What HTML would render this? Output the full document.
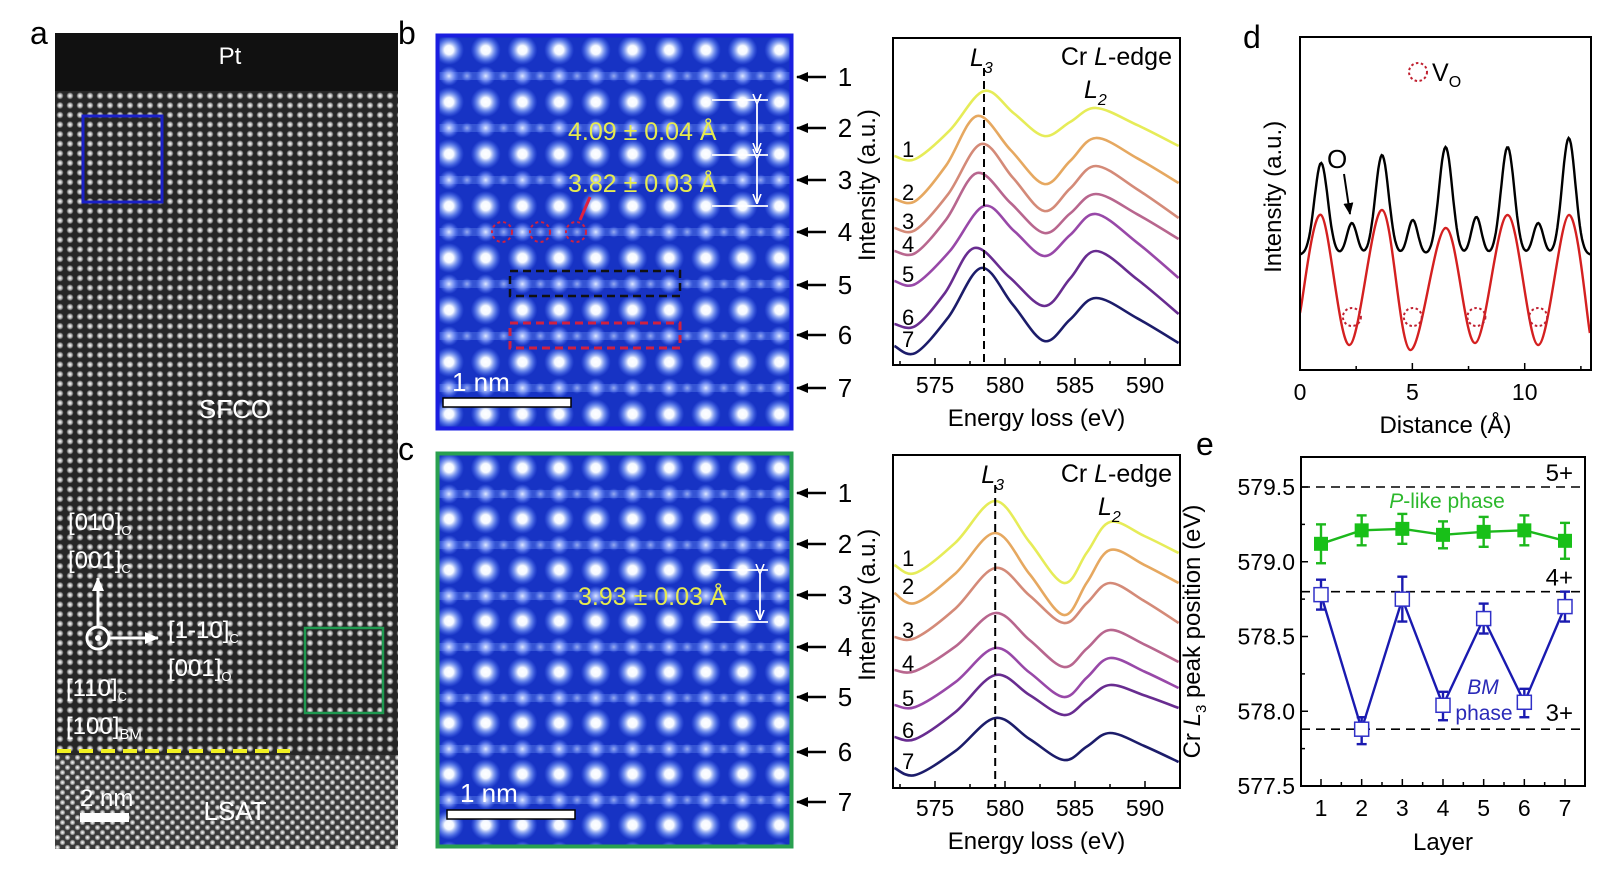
<!DOCTYPE html>
<html><head><meta charset="utf-8">
<style>
html,body{margin:0;padding:0;background:#fff;}
svg{display:block;font-family:"Liberation Sans",Arial,sans-serif;}
</style></head>
<body>
<svg id="fig" width="1618" height="890" viewBox="0 0 1618 890" xmlns="http://www.w3.org/2000/svg">
<defs>
  <radialGradient id="gdot"><stop offset="0" stop-color="#fff" stop-opacity="1"/><stop offset="0.5" stop-color="#ddd" stop-opacity="0.8"/><stop offset="1" stop-color="#fff" stop-opacity="0"/></radialGradient>
  <pattern id="latA" width="10" height="9.6" patternUnits="userSpaceOnUse" x="55" y="91">
    <rect width="10" height="9.6" fill="#262626"/>
    <circle cx="5" cy="4.8" r="3.6" fill="url(#gdot)"/>
  </pattern>
  <pattern id="latL" width="10" height="10" patternUnits="userSpaceOnUse" x="55" y="755">
    <rect width="10" height="10" fill="#3a3a3a"/>
    <circle cx="2.5" cy="2.5" r="3" fill="url(#gdot)"/>
    <circle cx="7.5" cy="7.5" r="3" fill="url(#gdot)"/>
  </pattern>
  <radialGradient id="bdot"><stop offset="0" stop-color="#fff"/><stop offset="0.3" stop-color="#f4f8ff"/><stop offset="0.65" stop-color="#8fb0ff" stop-opacity="0.6"/><stop offset="1" stop-color="#5a80ff" stop-opacity="0"/></radialGradient>
  <radialGradient id="sdot"><stop offset="0" stop-color="#dfe8ff"/><stop offset="0.5" stop-color="#90aaff" stop-opacity="0.7"/><stop offset="1" stop-color="#5a80ff" stop-opacity="0"/></radialGradient>
  <marker id="ah" markerUnits="userSpaceOnUse" markerWidth="12" markerHeight="12" refX="11" refY="6" orient="auto"><path d="M0,1 L12,6 L0,11 z" fill="#000"/></marker>
  <marker id="ahw" markerUnits="userSpaceOnUse" markerWidth="10" markerHeight="10" refX="9" refY="5" orient="auto"><path d="M0,1 L10,5 L0,9" fill="none" stroke="#fff" stroke-width="1.6"/></marker>
  <marker id="ahw2" markerUnits="userSpaceOnUse" markerWidth="14" markerHeight="14" refX="13" refY="7" orient="auto"><path d="M0,1 L14,7 L0,13 z" fill="#fff"/></marker>
</defs>

<!-- Panel a -->
<g>
  <text x="30" y="44" font-size="32">a</text>
  <rect x="55" y="33" width="343" height="816" fill="url(#latA)"/>
  <rect x="55" y="33" width="343" height="58" fill="#111"/>
  <rect x="55" y="755" width="343" height="94" fill="url(#latL)"/>
  <text x="230" y="64" font-size="24" fill="#fff" text-anchor="middle">Pt</text>
  <text x="235" y="418" font-size="26" fill="#fff" text-anchor="middle">SFCO</text>
  <text x="235" y="820" font-size="26" fill="#fff" text-anchor="middle">LSAT</text>
  <rect x="83" y="116" width="79" height="86" fill="none" stroke="#1a20c8" stroke-width="3"/>
  <rect x="305" y="628" width="78" height="85" fill="none" stroke="#1e9a50" stroke-width="2.5"/>
  <line x1="57" y1="751" x2="290" y2="751" stroke="#f0f020" stroke-width="4" stroke-dasharray="14,8"/>
  <g fill="#fff" font-size="24">
    <text x="68" y="530">[010]<tspan font-size="13" dy="5">O</tspan></text>
    <text x="68" y="568">[001]<tspan font-size="13" dy="5">C</tspan></text>
    <text x="168" y="638">[1-10]<tspan font-size="13" dy="5">C</tspan></text>
    <text x="168" y="676">[001]<tspan font-size="13" dy="5">O</tspan></text>
    <text x="66" y="696">[110]<tspan font-size="13" dy="5">C</tspan></text>
    <text x="66" y="734">[100]<tspan font-size="15" dy="5">BM</tspan></text>
  </g>
  <line x1="98" y1="626" x2="98" y2="578" stroke="#fff" stroke-width="3" marker-end="url(#ahw2)"/>
  <line x1="110" y1="638" x2="158" y2="638" stroke="#fff" stroke-width="3" marker-end="url(#ahw2)"/>
  <circle cx="98" cy="638" r="11" fill="none" stroke="#fff" stroke-width="3"/>
  <circle cx="98" cy="638" r="3" fill="#fff"/>
  <text x="80" y="806" font-size="24" fill="#fff">2 nm</text>
  <rect x="80" y="813" width="49" height="9" fill="#fff"/>
</g>

<g id="imgB"></g>
<g id="imgC"></g>

<g>
  <text x="398" y="44" font-size="32">b</text>
  <g stroke="#fff" stroke-width="1.8" fill="none">
    <line x1="712" y1="100" x2="768" y2="100"/><line x1="712" y1="155" x2="768" y2="155"/><line x1="712" y1="206" x2="768" y2="206"/>
    <line x1="757" y1="103" x2="757" y2="152" marker-end="url(#ahw)" marker-start="url(#ahw)"/>
    <line x1="757" y1="158" x2="757" y2="203" marker-end="url(#ahw)" marker-start="url(#ahw)"/>
  </g>
  <text x="568" y="140" font-size="25" fill="#e6ea50">4.09 ± 0.04 Å</text>
  <text x="568" y="192" font-size="25" fill="#e6ea50">3.82 ± 0.03 Å</text>
  <g fill="none" stroke="#d02040" stroke-width="2" stroke-dasharray="3,3">
    <circle cx="502" cy="232" r="10"/><circle cx="540" cy="232" r="10"/><circle cx="576" cy="232" r="10"/>
  </g>
  <line x1="590" y1="197" x2="580" y2="220" stroke="#e02040" stroke-width="3"/>
  <rect x="510" y="271" width="170" height="25" fill="none" stroke="#111" stroke-width="2.5" stroke-dasharray="8,5"/>
  <rect x="510" y="323" width="170" height="25" fill="none" stroke="#d02040" stroke-width="3" stroke-dasharray="8,5"/>
  <rect x="443" y="398" width="128" height="9" fill="#fff" stroke="#000" stroke-width="1.5"/>
  <text x="452" y="391" font-size="26" fill="#fff">1 nm</text>
</g>
<g>
  <text x="398" y="460" font-size="32">c</text>
  <g stroke="#fff" stroke-width="1.8" fill="none">
    <line x1="705" y1="570" x2="768" y2="570"/><line x1="705" y1="622" x2="768" y2="622"/>
    <line x1="760" y1="573" x2="760" y2="619" marker-end="url(#ahw)" marker-start="url(#ahw)"/>
  </g>
  <text x="578" y="605" font-size="25" fill="#e6ea50">3.93 ± 0.03 Å</text>
  <rect x="447" y="810" width="128" height="9" fill="#fff" stroke="#000" stroke-width="1.5"/>
  <text x="460" y="802" font-size="26" fill="#fff">1 nm</text>
</g>
<g id="rowArrows"></g>

<g id="specB"></g>
<g id="specC"></g>
<g id="panelD"></g>
<g id="panelE"></g>
</svg>

<script>
// ---------- Spectra data (intensity a.u.) ----------
const layerNames = ['1','2','3','4','5','6','7'];
const layerColors = ['#e6ec58','#e6a860','#d48a78','#b8668e','#9848a8','#682c90','#1c1c6a'];
const bL3 = [578.5,578.0,578.3,578.0,578.5,577.8,578.3];
const bDip = 582.8, bL2 = 586.5;
const bStart = [20.9,16.6,13.7,11.4,8.4,4.1,1.9];
const bMin   = [20.6,16.4,13.5,11.2,8.1,3.9,1.2];
const bPeak  = [27.4,24.9,22.1,19.2,15.9,11.7,9.7];
const bDipV  = [22.9,18.1,15.4,13.2,10.9,5.9,2.4];
const bL2V   = [25.7,22.7,19.9,17.1,15.1,11.4,6.7];
const bEnd   = [21.9,18.2,14.7,12.6,8.7,5.1,2.2];
const cL3 = [579.3,579.3,579.3,579.3,579.3,579.3,579.3];
const cDip = 584.2, cL2 = 587.5;
const cStart = [22.3,19.5,15.1,11.8,8.3,5.1,2.0];
const cMin   = [21.5,18.5,15.0,11.7,8.1,4.9,1.3];
const cPeak  = [28.7,25.5,22.0,17.5,14.0,11.3,7.0];
const cDipV  = [20.5,17.3,16.5,12.1,9.1,7.3,2.8];
const cL2V   = [26.6,23.8,20.5,15.8,13.0,10.3,5.5];
const cEnd   = [23.5,20.5,16.5,12.6,10.0,8.0,2.6];
const energyTicks = [575,580,585,590];

// ---------- Panel d data ----------
const dMajorPos = [0.94,3.65,6.48,9.24,11.96];
const dMajorVal = [20.7,21.5,22.3,22.3,23.2];
const dMinorPos = [2.31,5.02,7.85,10.6];
const dMinorVal = [14.7,15.0,15.3,14.7];
const dBase = 11.5;
const dRedPos = [0,0.94,2.2,3.65,4.9,6.48,7.8,9.24,10.6,11.96,12.9];
const dRedVal = [5.7,15.5,2.5,16.0,2.0,14.2,2.7,15.5,2.5,15.5,3.7];
const dTicks = [0,5,10];

// ---------- Panel e data ----------
const eLayers = [1,2,3,4,5,6,7];
const ePlike = [579.12,579.21,579.22,579.18,579.20,579.21,579.14];
const ePlikeErr = [0.13,0.10,0.10,0.09,0.10,0.10,0.12];
const eBM = [578.78,577.88,578.75,578.04,578.62,578.06,578.70];
const eBMErrUp = [0.10,0.08,0.15,0.09,0.10,0.09,0.10];
const eBMErrDn = [0.10,0.10,0.15,0.10,0.10,0.10,0.10];
const eYTicks = [577.5,578.0,578.5,579.0,579.5];
const eRefLines = [579.5,578.8,577.88];
const eRefLabels = ['5+','4+','3+'];

const NS='http://www.w3.org/2000/svg';
function el(tag, attrs, parent, text){
  const e=document.createElementNS(NS,tag);
  for(const k in attrs) e.setAttribute(k,attrs[k]);
  if(text!==undefined) e.textContent=text;
  parent.appendChild(e); return e;
}
function crPath(pts){
  let d='M'+pts[0][0].toFixed(1)+','+pts[0][1].toFixed(1);
  for(let i=0;i<pts.length-1;i++){
    const p0=pts[Math.max(0,i-1)],p1=pts[i],p2=pts[i+1],p3=pts[Math.min(pts.length-1,i+2)];
    const c1=[p1[0]+(p2[0]-p0[0])/6,p1[1]+(p2[1]-p0[1])/6];
    const c2=[p2[0]-(p3[0]-p1[0])/6,p2[1]-(p3[1]-p1[1])/6];
    d+=' C'+c1[0].toFixed(1)+','+c1[1].toFixed(1)+' '+c2[0].toFixed(1)+','+c2[1].toFixed(1)+' '+p2[0].toFixed(1)+','+p2[1].toFixed(1);
  }
  return d;
}

function drawStem(g, x0, y0, w, h, border, bigRows){
  const clipId='clip'+g.id;
  const cp=el('clipPath',{id:clipId},g); el('rect',{x:x0,y:y0,width:w,height:h},cp);
  const inner=el('g',{'clip-path':'url(#'+clipId+')'},g);
  el('rect',{x:x0,y:y0,width:w,height:h,fill:'#1733c4'},inner);
  for(let r=0;r<bigRows.length;r++){
    const yb=bigRows[r];
    el('rect',{x:x0,y:yb+22,width:w,height:8,fill:'#4a6ae0',opacity:0.6},inner);
    for(let c=0;c<10;c++){
      const xc=x0+13+c*36.7;
      el('circle',{cx:xc,cy:yb,r:15,fill:'url(#bdot)'},inner);
      el('circle',{cx:xc,cy:yb+26,r:10,fill:'url(#sdot)'},inner);
      el('circle',{cx:xc+18,cy:yb+26,r:6,fill:'url(#sdot)',opacity:0.6},inner);
    }
  }
  el('rect',{x:x0+1.5,y:y0+1.5,width:w-3,height:h-3,fill:'none',stroke:border,'stroke-width':4},g);
}
drawStem(document.getElementById('imgB'),436,34,357,396,'#1a1ee0',[50,102,154,206,258,310,362,414]);
drawStem(document.getElementById('imgC'),436,452,357,396,'#2aa050',[468,519,570,621,672,723,774,825]);

const rowsB=[77,128,180,232,285,335,388], rowsC=[493,544,595,647,697,752,802];
const ra=document.getElementById('rowArrows');
[rowsB,rowsC].forEach((rows,pi)=>{
  rows.forEach((y,i)=>{
    const a=el('line',{x1:826,y1:y,x2:797,y2:y,stroke:'#000','stroke-width':2.5,'marker-end':'url(#ah)'},ra);
    
    
    const t=el('text',{x:845,y:y+9,'font-size':26,'text-anchor':'middle'},ra,String(i+1));
    
    
  });
});

function drawSpectrum(g, box, L3, dipE, l2E, S, M, P, D, L2, E, dashE){
  const [bx,by,bw,bh]=box;
  const xs=v=>bx+(v-572)/(592.5-572)*bw;
  const ys=v=>by+bh-v*10;
  for(let i=0;i<7;i++){
    const mA=(573.6+L3[i])/2, mB=(L3[i]+dipE)/2, mC=(dipE+l2E)/2, mD=(l2E+592.4)/2;
    const raw=[[572.1,S[i]],[573.6,M[i]],
      [mA,M[i]+0.42*(P[i]-M[i])],[L3[i],P[i]],[mB,D[i]+0.5*(P[i]-D[i])],
      [dipE,D[i]],[mC,D[i]+0.5*(L2[i]-D[i])],[l2E,L2[i]],[mD,E[i]+0.55*(L2[i]-E[i])],[592.4,E[i]]];
    const pts=raw.map(p=>[xs(p[0]),ys(p[1])]);
    const p=el('path',{d:crPath(pts),fill:'none',stroke:layerColors[i],'stroke-width':2.6},g);
    
    
    const t=el('text',{x:bx+9,y:ys(S[i])+1,'font-size':22},g,layerNames[i]);
    
    
  }
  const dl=el('line',{x1:xs(dashE),y1:by+30,x2:xs(dashE),y2:by+bh,stroke:'#000','stroke-width':2,'stroke-dasharray':'8,5'},g);
  
  
  el('rect',{x:bx,y:by,width:bw,height:bh,fill:'none',stroke:'#000','stroke-width':2},g);
  for(let v=572.5; v<592.5; v+=2.5){
    const major = energyTicks.indexOf(v)>=0;
    el('line',{x1:xs(v),y1:by+bh,x2:xs(v),y2:by+bh-(major?7:4),stroke:'#000','stroke-width':1.5},g);
  }
  energyTicks.forEach(v=>{
    const t=el('text',{x:xs(v),y:by+bh+28,'font-size':23,'text-anchor':'middle'},g,String(v));
    
    
  });
  const xl=el('text',{x:bx+bw/2,y:by+bh+61,'font-size':24,'text-anchor':'middle'},g,'Energy loss (eV)');
  
  
  const yl=el('text',{x:0,y:0,'font-size':24,'text-anchor':'middle',transform:`translate(${bx-18},${by+bh*0.45}) rotate(-90)`},g,'Intensity (a.u.)');
  
  
  const l3=el('text',{x:xs(dashE)-14,y:by+28,'font-size':25,'font-style':'italic'},g);
  l3.innerHTML='L<tspan font-size="16" dy="7">3</tspan>';
  
  
  const ce=el('text',{x:bx+bw-8,y:by+27,'font-size':25,'text-anchor':'end'},g);
  ce.innerHTML='Cr <tspan font-style="italic">L</tspan>-edge';
  
  
  const l2=el('text',{x:xs(l2E)-12,y:by+60,'font-size':25,'font-style':'italic'},g);
  l2.innerHTML='L<tspan font-size="16" dy="7">2</tspan>';
  
  
}
drawSpectrum(document.getElementById('specB'),[893,38,287,327],bL3,bDip,bL2,bStart,bMin,bPeak,bDipV,bL2V,bEnd,578.5);
drawSpectrum(document.getElementById('specC'),[893,455,287,333],cL3,cDip,cL2,cStart,cMin,cPeak,cDipV,cL2V,cEnd,579.3);

(function(){
  const g=document.getElementById('panelD');
  const bx=1300,by=37,bw=291,bh=333, xmax=12.95;
  const xs=v=>bx+v/xmax*bw, ys=v=>by+bh-v*10;
  el('text',{x:1243,y:48,'font-size':32},g,'d');
  const clip=el('clipPath',{id:'clipD'},g); el('rect',{x:bx,y:by,width:bw,height:bh},clip);
  const inner=el('g',{'clip-path':'url(#clipD)'},g);
  let pts=[];
  for(let i=0;i<=260;i++){
    const x=i/260*xmax; let v=dBase;
    dMajorPos.forEach((p,k)=>{v+=(dMajorVal[k]-dBase)*Math.exp(-Math.pow((x-p)/0.42,2));});
    dMinorPos.forEach((p,k)=>{v+=(dMinorVal[k]-dBase)*Math.exp(-Math.pow((x-p)/0.32,2));});
    pts.push((i?'L':'M')+xs(x).toFixed(1)+','+ys(v).toFixed(1));
  }
  const bl=el('path',{d:pts.join(' '),fill:'none',stroke:'#000','stroke-width':2.4},inner);
  
  
  const rd=el('path',{d:crPath(dRedPos.map((p,k)=>[xs(p),ys(dRedVal[k])])),fill:'none',stroke:'#d42020','stroke-width':2.4},inner);
  
  
  dMinorPos.forEach(p=>{
    const c=el('circle',{cx:xs(p),cy:317,r:9,fill:'none',stroke:'#c02030','stroke-width':2,'stroke-dasharray':'2.5,2.5'},g);
    
    
  });
  el('rect',{x:bx,y:by,width:bw,height:bh,fill:'none',stroke:'#000','stroke-width':2},g);
  for(let v=0; v<=12.5; v+=2.5){
    el('line',{x1:xs(v),y1:by+bh,x2:xs(v),y2:by+bh-(v%5===0?7:4),stroke:'#000','stroke-width':1.5},g);
  }
  dTicks.forEach(v=>{
    const t=el('text',{x:xs(v),y:by+bh+30,'font-size':23,'text-anchor':'middle'},g,String(v));
    
    
  });
  const xl=el('text',{x:bx+bw/2,y:by+bh+63,'font-size':24,'text-anchor':'middle'},g,'Distance (Å)');
  
  
  const yl=el('text',{x:0,y:0,'font-size':24,'text-anchor':'middle',transform:`translate(${bx-19},${by+bh*0.48}) rotate(-90)`},g,'Intensity (a.u.)');
  
  
  const lc=el('circle',{cx:1418,cy:72,r:9,fill:'none',stroke:'#c02030','stroke-width':2,'stroke-dasharray':'2.5,2.5'},g);
  
  
  const lt=el('text',{x:1432,y:81,'font-size':25},g);
  lt.innerHTML='V<tspan font-size="16" dy="6">O</tspan>';
  
  
  const ot=el('text',{x:1327,y:168,'font-size':26},g,'O');
  
  
  const oa=el('line',{x1:1344,y1:174,x2:1350,y2:214,stroke:'#000','stroke-width':2,'marker-end':'url(#ah)'},g);
  
  
})();

(function(){
  const g=document.getElementById('panelE');
  const bx=1301,by=457,bw=284,bh=329;
  const xs=v=>1321+(v-1)*(1565-1321)/6;
  const ys=v=>786-(v-577.5)*149.5;
  el('text',{x:1196,y:455,'font-size':32},g,'e');
  eRefLines.forEach((v,i)=>{
    const l=el('line',{x1:bx,y1:ys(v),x2:bx+bw,y2:ys(v),stroke:'#000','stroke-width':1.6,'stroke-dasharray':'9,6'},g);
    
    
    const t=el('text',{x:bx+bw-12,y:ys(v)-(i===2?8:6),'font-size':24,'text-anchor':'end'},g,eRefLabels[i]);
    
    
  });
  el('polyline',{points:eLayers.map((l,i)=>xs(l)+','+ys(ePlike[i])).join(' '),fill:'none',stroke:'#1cb81c','stroke-width':2.4},g);
  eLayers.forEach((l,i)=>{
    const x=xs(l),y1=ys(ePlike[i]+ePlikeErr[i]),y2=ys(ePlike[i]-ePlikeErr[i]);
    el('line',{x1:x,y1:y1,x2:x,y2:y2,stroke:'#1cb81c','stroke-width':2.4},g);
    el('line',{x1:x-5,y1:y1,x2:x+5,y2:y1,stroke:'#1cb81c','stroke-width':2.4},g);
    el('line',{x1:x-5,y1:y2,x2:x+5,y2:y2,stroke:'#1cb81c','stroke-width':2.4},g);
    const r=el('rect',{x:x-7,y:ys(ePlike[i])-7,width:14,height:14,fill:'#18c018'},g);
    
    
  });
  el('polyline',{points:eLayers.map((l,i)=>xs(l)+','+ys(eBM[i])).join(' '),fill:'none',stroke:'#1a1ab0','stroke-width':2.4},g);
  eLayers.forEach((l,i)=>{
    const x=xs(l),y1=ys(eBM[i]+eBMErrUp[i]),y2=ys(eBM[i]-eBMErrDn[i]);
    el('line',{x1:x,y1:y1,x2:x,y2:y2,stroke:'#1a1ab0','stroke-width':2.4},g);
    el('line',{x1:x-5,y1:y1,x2:x+5,y2:y1,stroke:'#1a1ab0','stroke-width':2.4},g);
    el('line',{x1:x-5,y1:y2,x2:x+5,y2:y2,stroke:'#1a1ab0','stroke-width':2.4},g);
    const r=el('rect',{x:x-7,y:ys(eBM[i])-7,width:14,height:14,fill:'#fff',stroke:'#3030c8','stroke-width':1.5},g);
    
    
  });
  el('rect',{x:bx,y:by,width:bw,height:bh,fill:'none',stroke:'#000','stroke-width':2},g);
  for(let v=577.5; v<=579.71; v+=0.25){
    const maj=Math.abs((v*2)%1)<1e-6;
    el('line',{x1:bx,y1:ys(v),x2:bx+(maj?7:4),y2:ys(v),stroke:'#000','stroke-width':1.5},g);
  }
  eYTicks.forEach(v=>{
    const t=el('text',{x:bx-6,y:ys(v)+8,'font-size':23,'text-anchor':'end'},g,v.toFixed(1));
    
    
  });
  for(let v=1; v<=7.01; v+=0.5){
    el('line',{x1:xs(v),y1:by+bh,x2:xs(v),y2:by+bh-(v%1===0?7:4),stroke:'#000','stroke-width':1.5},g);
  }
  eLayers.forEach(v=>{
    const t=el('text',{x:xs(v),y:by+bh+30,'font-size':23,'text-anchor':'middle'},g,String(v));
    
    
  });
  const xl=el('text',{x:bx+bw/2,y:by+bh+64,'font-size':24,'text-anchor':'middle'},g,'Layer');
  
  
  const yl=el('text',{x:0,y:0,'font-size':24,'text-anchor':'middle',transform:`translate(1200,${by+bh/2+10}) rotate(-90)`},g);
  yl.innerHTML='Cr <tspan font-style="italic">L</tspan><tspan font-size="15" dy="6">3</tspan><tspan dy="-6"> peak position (eV)</tspan>';
  
  
  const pl=el('text',{x:1447,y:508,'font-size':21,fill:'#2cb82c','text-anchor':'middle'},g);
  pl.innerHTML='<tspan font-style="italic">P</tspan>-like phase';
  
  
  const bm=el('text',{x:1483,y:694,'font-size':21,fill:'#2a2ab8','font-style':'italic','text-anchor':'middle'},g,'BM');
  
  
  const ph=el('text',{x:1484,y:720,'font-size':21,fill:'#2a2ab8','text-anchor':'middle'},g,'phase');
  
  
})();
</script>
</body></html>
